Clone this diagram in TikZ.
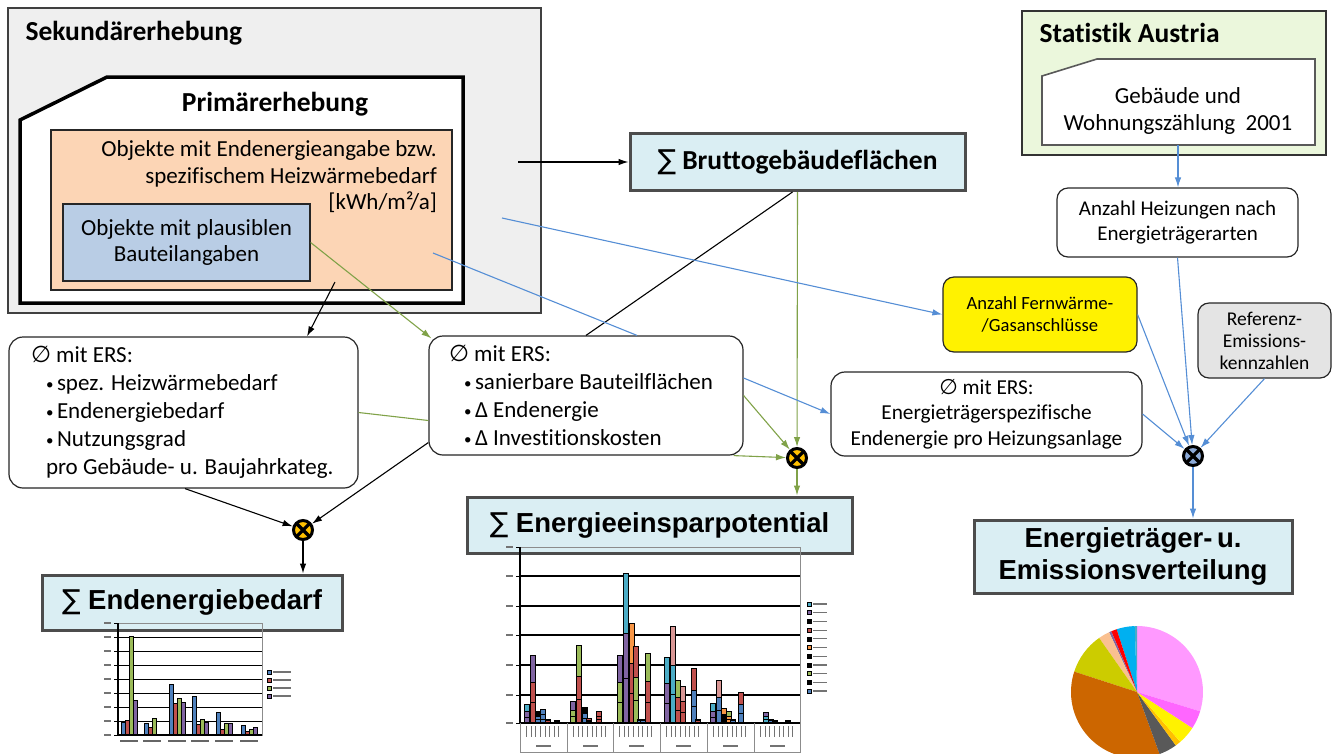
\documentclass[tikz,border=0pt]{standalone}
\usepackage{fontspec}
\setmainfont[Ligatures=NoCommon]{Carlito}
\newfontfamily\symfont{DejaVu Sans}
\newfontfamily\headfont{Liberation Sans}
\usetikzlibrary{arrows.meta}

\definecolor{sekgray}{RGB}{239,239,239}
\definecolor{primorange}{RGB}{252,213,181}
\definecolor{primblue}{RGB}{185,205,229}
\definecolor{sumblue}{RGB}{218,238,243}
\definecolor{statgreen}{RGB}{235,247,220}
\definecolor{refgray}{RGB}{228,228,228}
\definecolor{arrgreen}{RGB}{128,162,72}
\definecolor{arrblue}{RGB}{85,142,213}
\definecolor{multorange}{RGB}{255,192,0}
\definecolor{multblue}{RGB}{140,170,215}
\definecolor{cblue}{RGB}{79,129,189}
\definecolor{cred}{RGB}{192,80,77}
\definecolor{cgreen}{RGB}{155,187,89}
\definecolor{cpurple}{RGB}{128,100,162}
\definecolor{cteal}{RGB}{75,172,198}
\definecolor{corange}{RGB}{247,150,70}
\definecolor{cpink}{RGB}{217,150,148}
\definecolor{piepink}{RGB}{255,153,255}
\definecolor{piemagenta}{RGB}{255,102,255}
\definecolor{pieblue}{RGB}{0,176,240}
\definecolor{pieorange}{RGB}{250,192,144}
\definecolor{pieolive}{RGB}{204,204,0}
\definecolor{piebrown}{RGB}{204,102,0}
\definecolor{piegray}{RGB}{89,89,89}

\newcommand{\bodyfs}{\fontsize{23}{26.5}\selectfont}
\newcommand{\ersfs}{\fontsize{23}{28}\selectfont}
\newcommand{\titlefs}{\fontsize{27.5}{32}\selectfont}
\newcommand{\sumfs}{\headfont\bfseries\fontsize{27.5}{32.5}\selectfont}
\newcommand{\sumsign}{{\symfont\mdseries ∑}}
\newcommand{\avgsign}{{\symfont ∅}}
\newcommand{\bul}{\hspace*{15pt}\makebox[11pt][l]{\raisebox{1pt}{\fontsize{15}{15}\selectfont •}}}

\tikzset{
  sumbox/.style={draw=black!70, line width=3pt, fill=sumblue, inner sep=0pt, align=center},
  ersbox/.style={draw=black!85, line width=1.2pt, rounded corners=14pt, fill=white, inner sep=0pt},
  infobox/.style={draw=black!85, line width=1.2pt, rounded corners=11pt, inner sep=0pt, align=center},
  mult/.style={circle, draw=black, line width=3pt, fill=#1, minimum size=19pt, inner sep=0pt,
    path picture={\draw[line width=3.2pt] (path picture bounding box.north west) -- (path picture bounding box.south east)
      (path picture bounding box.north east) -- (path picture bounding box.south west);}},
  link/.style={-{Latex[length=10pt,width=6.5pt]}, line width=1.1pt},
}

\begin{document}
\begin{tikzpicture}[x=1pt,y=-1pt]
\useasboundingbox (0,0) rectangle (1332,753);

% Erhebungen
\draw[black!75, line width=1.2pt, fill=sekgray] (8,8) rectangle (541,313);
\node[anchor=west, font=\titlefs\bfseries] (sek) at (22,33) {Sekundärerhebung};
\draw[line width=3.5pt, fill=white] (20,120) -- (107,77) -- (463,77) -- (463,303) -- (20,303) -- cycle;
\node[font=\titlefs\bfseries] (prim) at (275,104) {Primärerhebung};
\node[draw=black!85, line width=1.2pt, fill=primorange, minimum width=401pt, minimum height=160pt] (obj) at (251.5,210) {};
\node[anchor=east, align=right, font=\bodyfs, inner sep=0pt] (objtext) at (437,177)
  {Objekte mit Endenergieangabe bzw.\\spezifischem Heizwärmebedarf\\{}[kWh/m²/a]};
\node[draw=black!85, line width=1.2pt, fill=primblue, minimum width=247pt, minimum height=77pt, align=center,
  font=\bodyfs, inner sep=0pt] (bauteil) at (186.5,242.5) {Objekte mit plausiblen\\Bauteilangaben};

\node[sumbox, minimum width=335pt, minimum height=57pt, font=\titlefs\bfseries] (bgf)
  at (797.5,162) {\sumsign\ Bruttogebäudeflächen};

% Statistik Austria
\draw[black!80, line width=1.2pt, fill=statgreen] (1022,11) rectangle (1326,155);
\node[anchor=west, font=\titlefs\bfseries] (stat) at (1036,33) {Statistik Austria};
\draw[black!65, line width=1.6pt, fill=white] (1042,76) -- (1097,59) -- (1315,59) -- (1315,145) -- (1042,145) -- cycle;
\node[align=center, font=\bodyfs] (gwz) at (1178,111) {Gebäude und\\Wohnungszählung~~2001};
\coordinate (gwzbot) at (1178,145);

\node[infobox, minimum width=241pt, minimum height=69pt, font=\fontsize{21}{24.5}\selectfont] (hz)
  at (1177.5,222.5) {Anzahl Heizungen nach\\Energieträgerarten};
\node[infobox, fill=yellow, minimum width=194pt, minimum height=75pt, font=\fontsize{18.6}{21.5}\selectfont] (fw)
  at (1040,314.5) {Anzahl Fernwärme-\\/Gasanschlüsse};
\node[infobox, fill=refgray, minimum width=133pt, minimum height=75pt, font=\fontsize{19.5}{22}\selectfont] (ref)
  at (1264.5,340.5) {Referenz-\\Emissions-\\kennzahlen};
\node[ersbox, minimum width=311pt, minimum height=84pt, align=center, font=\fontsize{21.3}{25.5}\selectfont] (ers3)
  at (986.5,414) {\avgsign\ mit ERS:\\Energieträgerspezifische\\Endenergie pro Heizungsanlage};

\node[mult=multblue] (m3) at (1193,456) {};
\node[sumbox, minimum width=318pt, minimum height=73pt, font=\sumfs] (emi)
  at (1133,556.5) {Energieträger-\,u.\\Emissionsverteilung};

% ERS Kennwerte
\node[ersbox, minimum width=349pt, minimum height=151pt, text width=305pt, inner xsep=22pt, align=flush left, font=\ersfs] (ers1)
  at (183.5,412.5) {\avgsign\ mit ERS:\\\bul spez. Heizwärmebedarf\\\bul Endenergiebedarf\\\bul Nutzungsgrad\\\hspace*{15pt}pro Gebäude- u. Baujahrkateg.};
\node[ersbox, minimum width=314pt, minimum height=119pt, text width=274pt, inner xsep=20pt, align=flush left, font=\ersfs] (ers2)
  at (586,395.5) {\avgsign\ mit ERS:\\\bul sanierbare Bauteilflächen\\\bul Δ Endenergie\\\bul Δ Investitionskosten};

\node[mult=multorange] (m1) at (303,530) {};
\node[mult=multorange] (m2) at (797,458) {};

\node[sumbox, minimum width=300pt, minimum height=55pt, font=\sumfs] (eeb) at (192,602.5) {\sumsign\ Endenergiebedarf};
\node[sumbox, minimum width=385pt, minimum height=56pt, font=\sumfs] (esp) at (659.5,525) {\sumsign\ Energieeinsparpotential};

% Verbindungen
\coordinate (bgfsrc) at (518,162);
\coordinate (fwsrc) at (502,218);
\coordinate (bauteilsrc) at (433,253);
\coordinate (objsrc) at (335,282);

\draw[link] (bgfsrc) -- (bgf);
\draw[line width=1.1pt] ([xshift=-5pt]bgf.south) -- (ers2.north);
\draw[link, arrgreen] (bgf.south) -- (m2);
\draw[link, arrblue] (fwsrc) -- (fw.west);
\draw[line width=1.1pt, arrblue] (bauteilsrc) -- ([xshift=51pt]ers2.north);
\draw[link, arrblue] ([yshift=17.5pt]ers2.east) -- (ers3.west);
\draw[link, arrgreen] (ers2.east) -- (m2);
\draw[link, arrgreen] ([xshift=-10pt]ers2.south east) -- (m2);
\draw[link, arrgreen] (bauteil.east) -- ([shift={(3pt,-3pt)}]ers2.north west);
\draw[line width=1.1pt, arrgreen] (ers1.east) -- ([yshift=-25pt]ers2.west);
\draw[link] (objsrc) -- ([xshift=123.5pt]ers1.north);
\draw[link] ([xshift=1.5pt]ers1.south) -- (m1);
\draw[link] ([yshift=-47pt]ers2.west) -- (m1);
\draw[link] (m1) -- (m1 |- eeb.north);
\draw[link, arrgreen] (m2) -- (m2 |- esp.north);
\draw[link, arrblue] (gwzbot) -- (gwzbot |- hz.north);
\draw[link, arrblue] (hz.south) -- (m3);
\draw[link, arrblue] (fw.east) -- (m3);
\draw[link, arrblue] (ref.south) -- (m3);
\draw[link, arrblue] (ers3.east) -- (m3);
\draw[link, arrblue] (m3) -- (m3 |- emi.north);

% Diagramm Endenergiebedarf
\draw[black!45, line width=0.8pt] (117,623) rectangle (262,735);
\foreach \y in {637,651,665,679,693,707,721}
  \draw[line width=1pt] (118,\y) -- (262,\y);
\foreach \x/\a/\b/\c/\d in {129/13/15/99/35, 152/12/8/17/1, 177/51/32/37/33, 200/39/11/16/13, 224/23/6/12/12, 249/10/4/6/8}{
  \draw[fill=cblue, line width=0.6pt] (\x-8,735) rectangle (\x-4,735-\a);
  \draw[fill=cred, line width=0.6pt] (\x-4,735) rectangle (\x,735-\b);
  \draw[fill=cgreen, line width=0.6pt] (\x,735) rectangle (\x+4,735-\c);
  \draw[fill=cpurple, line width=0.6pt] (\x+4,735) rectangle (\x+8,735-\d);
  \fill[black!60] (\x-9,740) rectangle (\x+9,742);
}
\draw[line width=1.6pt] (118,623) -- (118,735) -- (262,735);
\foreach \y in {623,637,651,665,679,693,707,721,735}{
  \draw[line width=1pt] (114,\y) -- (118,\y);
  \fill[black!55] (104,\y-0.7) rectangle (111,\y+0.7);
}
\foreach \y/\c in {672/cblue,680/cred,688/cgreen,696/cpurple}{
  \draw[fill=\c, line width=0.5pt] (267,\y-2) rectangle (271,\y+2);
  \fill[black!55] (273,\y-0.7) rectangle (291,\y+0.7);
}

% Diagramm Energieeinsparpotential
\draw[black!45, line width=0.8pt] (520,547) rectangle (800,752);
\foreach \y in {576,606,635,665,695}
  \draw[line width=1.2pt] (520,\y) -- (800,\y);
\foreach \x/\h/\ca/\cb in {527/19/cpurple/cteal, 533/68/cred/cpurple, 538/12/cblue/black, 543/14/cblue/cblue,
  548/4/cred/cred, 557/3/cblue/cblue, 573/22/cgreen/cpurple, 579/78/cred/cgreen, 585/16/cblue/black, 589/5/cred/cred,
  599/12/cred/cred, 620/68/cgreen/cpurple, 626/150/cpurple/cteal, 632/100/cred/corange, 636/77/cgreen/cred,
  640/4/cblue/cblue, 643/4/cblue/cblue, 648/70/cred/cgreen, 667/66/cpurple/cteal, 673/97/cteal/cpink,
  678/43/cred/cgreen, 683/37/cred/cpink, 694/55/cblue/cred, 698/4/cred/cred, 713/20/cpurple/cteal,
  719/43/cblue/cpink, 724/15/black/corange, 729/12/corange/cgreen, 733/4/cblue/cblue, 741/31/cblue/cred,
  766/11/cteal/cpurple, 771/4/cblue/cblue, 775/3/cred/cred, 788/3/cblue/cblue}{
  \fill[\ca] (\x-2.3,723) rectangle (\x+2.3,723-0.6*\h);
  \fill[\cb] (\x-2.3,723-0.6*\h) rectangle (\x+2.3,723-\h);
  \draw[line width=0.9pt] (\x-2.3,723) rectangle (\x+2.3,723-\h);
  \draw[line width=0.6pt] (\x-2.3,723-0.3*\h) -- (\x+2.3,723-0.3*\h) (\x-2.3,723-0.6*\h) -- (\x+2.3,723-0.6*\h);
}
\draw[line width=1.6pt] (520,547) -- (520,723) -- (800,723);
\foreach \y in {547,576,606,635,665,695,723}{
  \draw[line width=0.8pt] (516,\y) -- (520,\y);
  \fill[black!55] (506,\y-0.7) rectangle (513,\y+0.7);
}
\foreach \g in {520,567,613,660,707,754}{
  \draw[black!45, line width=0.8pt] (\g,723) -- (\g,752);
  \foreach \i in {1,...,8}
    \draw[black!55, line width=0.9pt] (\g+2+\i*4.6,726) -- (\g+2+\i*4.6,737);
  \fill[black!55] (\g+16,745) rectangle (\g+31,747);
}
\foreach \i/\c in {0/cteal,1/cpurple,2/black,3/cred,4/black,5/corange,6/black,7/black,8/cgreen,9/black,10/cblue}{
  \draw[fill=\c, line width=0.5pt] (807,604+8.7*\i-2) rectangle (811,604+8.7*\i+2);
  \fill[black!55] (813,604+8.7*\i-0.6) rectangle (827,604+8.7*\i+0.6);
}

% Kreisdiagramm
\coordinate (pie) at (1137,692);
\foreach \a/\b/\c in {-17/90/piepink, 90/92/cteal, 92/108/pieblue, 108/113/red, 113/115/cpurple, 115/125/pieorange,
  125/162/pieolive, 162/290/piebrown, 290/306/piegray, 306/311/multorange, 311/327/yellow, 327/343/piemagenta}
  \fill[\c] (pie) -- +(\a:66pt) arc[start angle=\a, end angle=\b, radius=66pt] -- cycle;

\end{tikzpicture}
\end{document}
